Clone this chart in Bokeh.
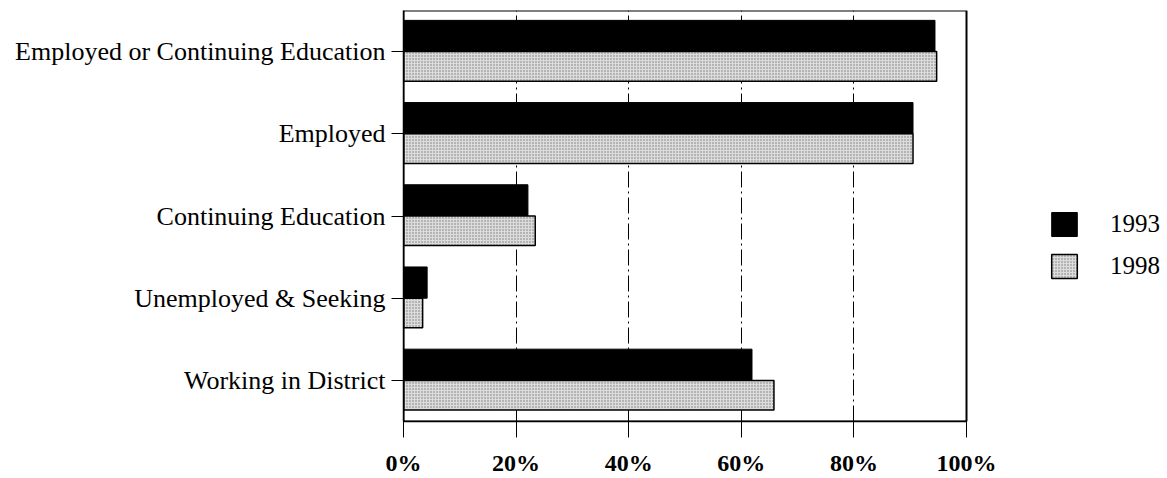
from bokeh.plotting import figure
from bokeh.models import (FactorRange, Range1d, Legend, LegendItem, FixedTicker,
                          ColumnDataSource, BoxAnnotation)
from bokeh.transform import dodge
from bokeh.embed import file_html
from bokeh.resources import INLINE

categories = ["Employed or Continuing Education", "Employed", "Continuing Education",
              "Unemployed & Seeking", "Working in District"]
series_names = ["1993", "1998"]
values_1993 = [94.4, 90.5, 22.1, 4.2, 61.9]
values_1998 = [94.7, 90.5, 23.4, 3.4, 65.8]
tick_values = [0, 20, 40, 60, 80, 100]
tick_labels = ["0%", "20%", "40%", "60%", "80%", "100%"]

src = ColumnDataSource(dict(cat=categories, v1993=values_1993, v1998=values_1998))

# plot box spans 0..100 %, extra room on the right of the frame holds the legend
frame_px = 1167 - 403 - 5
axis_px = 563
p = figure(width=1167, height=478, output_backend="svg", toolbar_location=None,
           y_range=FactorRange(factors=list(reversed(categories)), range_padding=0),
           x_range=Range1d(0, 100 * frame_px / axis_px),
           min_border_left=403, min_border_right=5, min_border_top=10, min_border_bottom=57)
p.background_fill_color = "white"
p.border_fill_color = "white"
p.outline_line_color = None

r1 = p.hbar(y=dodge("cat", 0.19, range=p.y_range), right="v1993", left=0, height=0.38,
            source=src, fill_color="black", line_color="black", line_width=1)
r2 = p.hbar(y=dodge("cat", -0.18, range=p.y_range), right="v1998", left=0, height=0.36,
            source=src, fill_color="#dcdcdc", line_color="black", line_width=1.5,
            hatch_pattern="dot", hatch_color="#333333", hatch_scale=3, hatch_alpha=0.6)

box = BoxAnnotation(left=tick_values[0], right=tick_values[-1], fill_alpha=0,
                    line_color="black", line_alpha=1.0, line_width=2)
p.add_layout(box)

font = "Liberation Serif"
p.xaxis.bounds = (tick_values[0], tick_values[-1])
p.xaxis.ticker = FixedTicker(ticks=tick_values)
p.xaxis.major_label_overrides = {v: l for v, l in zip(tick_values, tick_labels)}
p.xaxis.major_label_text_font = font
p.xaxis.major_label_text_font_size = "24px"
p.xaxis.major_label_text_font_style = "bold"
p.xaxis.major_label_text_color = "black"
p.xaxis.major_tick_out = 16
p.xaxis.major_tick_in = 0
p.xaxis.minor_tick_line_color = None
p.xaxis.major_label_standoff = 12
p.xaxis.axis_line_width = 1.5
p.xaxis.axis_line_color = "black"
p.xaxis.major_tick_line_color = "black"

p.yaxis.major_label_text_font = font
p.yaxis.major_label_text_font_size = "26px"
p.yaxis.major_label_text_color = "black"
p.yaxis.major_tick_out = 12
p.yaxis.major_tick_in = 0
p.yaxis.major_label_standoff = 6
p.yaxis.axis_line_width = 1.5
p.yaxis.axis_line_color = "black"
p.yaxis.major_tick_line_color = "black"

p.xgrid.ticker = FixedTicker(ticks=tick_values[1:-1])
p.xgrid.grid_line_color = "black"
p.xgrid.grid_line_dash = "16 4 2 4"
p.xgrid.grid_line_width = 1
p.ygrid.grid_line_color = None

legend = Legend(items=[LegendItem(label=series_names[0], renderers=[r1]),
                       LegendItem(label=series_names[1], renderers=[r2])],
                location=(645, 140), orientation="vertical")
legend.glyph_width = 32
legend.glyph_height = 30
legend.label_text_font = font
legend.label_text_font_size = "25px"
legend.label_text_color = "black"
legend.label_standoff = 30
legend.spacing = 12
legend.padding = 0
legend.margin = 0
legend.border_line_color = None
legend.background_fill_alpha = 0
p.add_layout(legend, "center")

open("out.html", "w").write(file_html(p, INLINE))
